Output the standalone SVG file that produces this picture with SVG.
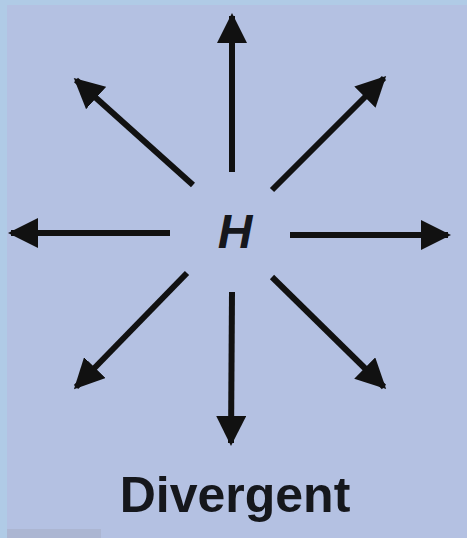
<svg xmlns="http://www.w3.org/2000/svg" width="467" height="538" viewBox="0 0 467 538">
<defs>
<marker id="ah" viewBox="0 0 10 10" refX="9" refY="5" markerWidth="5" markerHeight="5" orient="auto" markerUnits="strokeWidth">
<path d="M0,0 L10,5 L0,10 Z" fill="#111"/>
</marker>
<style>
.c line{stroke:#111;stroke-width:6;marker-end:url(#ah)}
.t{font-family:"Liberation Sans",Arial,sans-serif;fill:#15171c;font-weight:bold}
</style>
</defs>
<rect width="467" height="538" fill="#b0cbe6"/>
<rect x="7" y="5" width="460" height="533" fill="#b4c1e2"/>
<rect x="7" y="529" width="94" height="9" fill="#acb6d2"/>
<g class="c" id="connectors">
<line x1="232" y1="172" x2="232" y2="16"/>
<line x1="232" y1="292" x2="231" y2="443"/>
<line x1="170" y1="233" x2="11" y2="233"/>
<line x1="290" y1="235" x2="448" y2="235"/>
<line x1="193" y1="185" x2="76" y2="80"/>
<line x1="272" y1="190" x2="384" y2="78"/>
<line x1="187" y1="273" x2="76" y2="387"/>
<line x1="272" y1="277" x2="384" y2="387"/>
</g>
<g id="H"><text class="t" x="235" y="248" font-size="48" font-style="italic" text-anchor="middle">H</text></g>
<g id="label"><text class="t" x="235" y="512" font-size="50" text-anchor="middle">Divergent</text></g>
</svg>
